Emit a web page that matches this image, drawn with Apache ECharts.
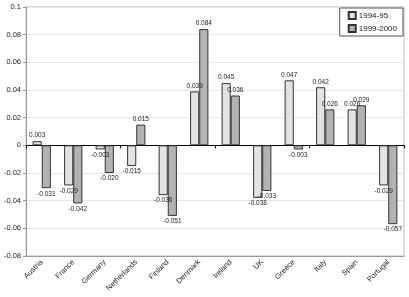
<!DOCTYPE html>
<html><head><meta charset="utf-8">
<script src="https://cdn.jsdelivr.net/npm/echarts@6/dist/echarts.min.js"></script>
<style>html,body{margin:0;padding:0;background:#fff}#c{width:409px;height:297px}</style>
</head><body><div id="c"></div>
<script>
var categories = ['Austria','France','Germany','Netherlands','Finland','Denmark','Ireland','UK','Greece','Italy','Spain','Portugal'];
var series1Name = '1994-95';
var series2Name = '1999-2000';
var values1994 = [0.003,-0.029,-0.003,-0.015,-0.036,0.039,0.045,-0.038,0.047,0.042,0.026,-0.029];
var values1999 = [-0.031,-0.042,-0.020,0.015,-0.051,0.084,0.036,-0.033,-0.003,0.026,0.029,-0.057];
var yTicks = [-0.08,-0.06,-0.04,-0.02,0,0.02,0.04,0.06,0.08,0.1];

var FONT = 'Liberation Sans, Arial, sans-serif';
function fmt(v){ return v.toFixed(3); }
function mk(vals){
  return vals.map(function(v){
    return {value:v, label:{position: v>=0 ? 'top':'bottom'}};
  });
}
var chart = echarts.init(document.getElementById('c'), null, {renderer:'canvas'});
chart.setOption({
  animation:false,
  backgroundColor:'#fff',
  grid:{left:26,right:5,top:7,bottom:41,show:true,borderColor:'#bbb',borderWidth:1},
  legend:{
    orient:'vertical', right:6, top:8,
    itemWidth:7, itemHeight:7, itemGap:4,
    padding:[3,6,3,8],
    backgroundColor:'#fff', borderColor:'#555', borderWidth:1, borderRadius:0,
    textStyle:{fontFamily:FONT,fontSize:8,color:'#222',padding:[0,0,0,-2]},
    data:[{name:series1Name,icon:'rect'},{name:series2Name,icon:'rect'}]
  },
  xAxis:[{
    type:'category', data:categories, position:'bottom',
    axisLine:{onZero:false,lineStyle:{color:'#999'}},
    axisTick:{show:false},
    axisLabel:{rotate:45,fontFamily:FONT,fontSize:7.5,color:'#222',margin:5,interval:0}
  },{
    type:'category', data:categories, position:'bottom',
    axisLine:{onZero:true,lineStyle:{color:'#000',width:1}},
    axisTick:{show:true,length:3,inside:false,lineStyle:{color:'#000'}},
    axisLabel:{show:false}
  }],
  yAxis:{
    type:'value', min:yTicks[0], max:yTicks[yTicks.length-1], interval:0.02,
    axisLine:{show:true,lineStyle:{color:'#999'}},
    axisTick:{show:true,length:3,lineStyle:{color:'#999'}},
    splitLine:{show:true,lineStyle:{color:'#e6e6e6'}},
    axisLabel:{fontFamily:FONT,fontSize:7.5,color:'#222',margin:5,
      formatter:function(v){ var r=Math.round(v*100)/100; return String(r); }}
  },
  series:[{
    name:series1Name, type:'bar', xAxisIndex:0, data:mk(values1994),
    barGap:'0%', barCategoryGap:'42%',
    itemStyle:{color:'#e3e3e3',borderColor:'#333',borderWidth:1},
    label:{show:true,fontFamily:FONT,fontSize:6.5,color:'#222',distance:2,formatter:function(p){return fmt(p.value);}}
  },{
    name:series2Name, type:'bar', xAxisIndex:0, data:mk(values1999),
    barGap:'0%', barCategoryGap:'42%',
    itemStyle:{color:'#b3b3b3',borderColor:'#333',borderWidth:1},
    label:{show:true,fontFamily:FONT,fontSize:6.5,color:'#222',distance:2,formatter:function(p){return fmt(p.value);}}
  }]
});
</script></body></html>
